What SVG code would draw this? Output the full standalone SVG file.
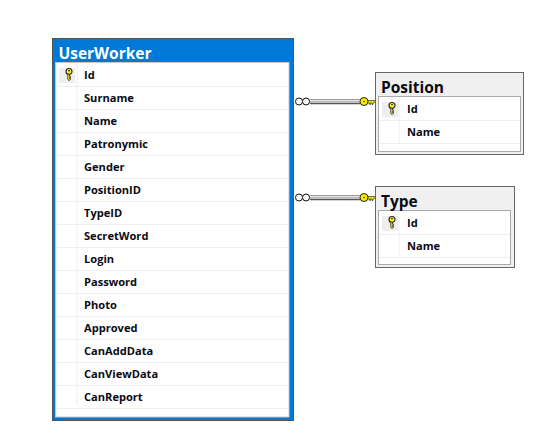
<svg xmlns="http://www.w3.org/2000/svg" width="560" height="443" viewBox="0 0 560 443">
<style>
text{font-family:"Open Sans","Noto Sans","Liberation Sans",sans-serif;fill:#0a0a14}
.f{font-size:11.1px;font-weight:700}
.t{font-size:15.5px;font-weight:700}
.r{stroke:#eeeeee;stroke-width:1;fill:none}
.kb{fill:#eeeeee}
.c{fill:#fff;stroke:#111;stroke-width:1}
.ky{fill:#ffee00;stroke:#222;stroke-width:1}
</style>
<defs>
<g id="key">
<circle cx="0" cy="-2.500" r="3" fill="#ffee22" stroke="#222" stroke-width="1.100"/>
<path d="M-1.200 0V5.500L0 6.500L1.500 5.500V4.500H0.500V3.500H1.500V2.200H0.500V0Z" fill="#ffee22" stroke="#222" stroke-width="0.800"/>
<rect x="-1" y="-3.800" width="2" height="1" fill="#222"/>
</g>
<g id="link">
<circle cx="0" cy="0.500" r="3.500" class="c"/>
<circle cx="7" cy="0.500" r="3.500" class="c"/>
<rect x="11" y="-2" width="50" height="5" fill="#e4e4e4"/>
<path d="M11-1.500H61" stroke="#999" fill="none"/>
<path d="M11 0.500H61" stroke="#bbb" fill="none"/>
<path d="M11 2.500H61" stroke="#555" stroke-width="1.500" fill="none"/>
<circle cx="65" cy="0.500" r="4" class="ky"/>
<circle cx="65" cy="0.500" r="0.800" fill="#222"/>
<path d="M69-0.500H76.500L75 2H74V3.500H73V2H71.500V3.500H70.500V2H69Z" fill="#f0e000" stroke="#333" stroke-width="0.700"/>
</g>
</defs>
<rect width="560" height="443" fill="#fff"/>
<g id="connectors">
<use href="#link" x="299" y="101"/>
<use href="#link" x="299" y="197"/>
</g>
<g id="UserWorker">
<rect x="52.500" y="38.500" width="241" height="382" fill="#0078d7" stroke="#555"/>
<rect x="55.500" y="62.500" width="233.500" height="354.500" fill="#fff" stroke="#c8c8c8"/>
<text class="t" x="58.500" y="59" style="fill:#fff">UserWorker</text>
<path class="r" d="M77 63V405M56 86.500H288M56 109.500H288M56 132.500H288M56 155.500H288M56 178.500H288M56 201.500H288M56 224.500H288M56 247.500H288M56 270.500H288M56 293.500H288M56 316.500H288M56 339.500H288M56 362.500H288M56 385.500H288M56 408.500H288"/>
<rect class="kb" x="59" y="68" width="16" height="15"/>
<use href="#key" x="69" y="74"/>
<text class="f" x="84" y="79">Id</text>
<text class="f" x="84" y="102">Surname</text>
<text class="f" x="84" y="125">Name</text>
<text class="f" x="84" y="148">Patronymic</text>
<text class="f" x="84" y="171">Gender</text>
<text class="f" x="84" y="194">PositionID</text>
<text class="f" x="84" y="217">TypeID</text>
<text class="f" x="84" y="240">SecretWord</text>
<text class="f" x="84" y="263">Login</text>
<text class="f" x="84" y="286">Password</text>
<text class="f" x="84" y="309">Photo</text>
<text class="f" x="84" y="332">Approved</text>
<text class="f" x="84" y="355">CanAddData</text>
<text class="f" x="84" y="378">CanViewData</text>
<text class="f" x="84" y="401">CanReport</text>
</g>
<g id="Position">
<rect x="375.500" y="72.500" width="148" height="82" fill="#f0f0f0" stroke="#666"/>
<rect x="378.500" y="96.500" width="142" height="55" fill="#fff" stroke="#aaa"/>
<text class="t" x="381" y="93">Position</text>
<path class="r" d="M399 97V143M379 120.500H520M379 143.500H520"/>
<rect class="kb" x="382" y="102" width="16" height="15"/>
<use href="#key" x="392" y="108"/>
<text class="f" x="407" y="113">Id</text>
<text class="f" x="407" y="136">Name</text>
</g>
<g id="Type">
<rect x="375.500" y="186.500" width="139" height="81" fill="#f0f0f0" stroke="#666"/>
<rect x="378.500" y="210.500" width="132" height="54" fill="#fff" stroke="#aaa"/>
<text class="t" x="381" y="207">Type</text>
<path class="r" d="M399 211V257M379 234.500H510M379 257.500H510"/>
<rect class="kb" x="382" y="216" width="16" height="15"/>
<use href="#key" x="392" y="222"/>
<text class="f" x="407" y="227">Id</text>
<text class="f" x="407" y="250">Name</text>
</g>
</svg>
